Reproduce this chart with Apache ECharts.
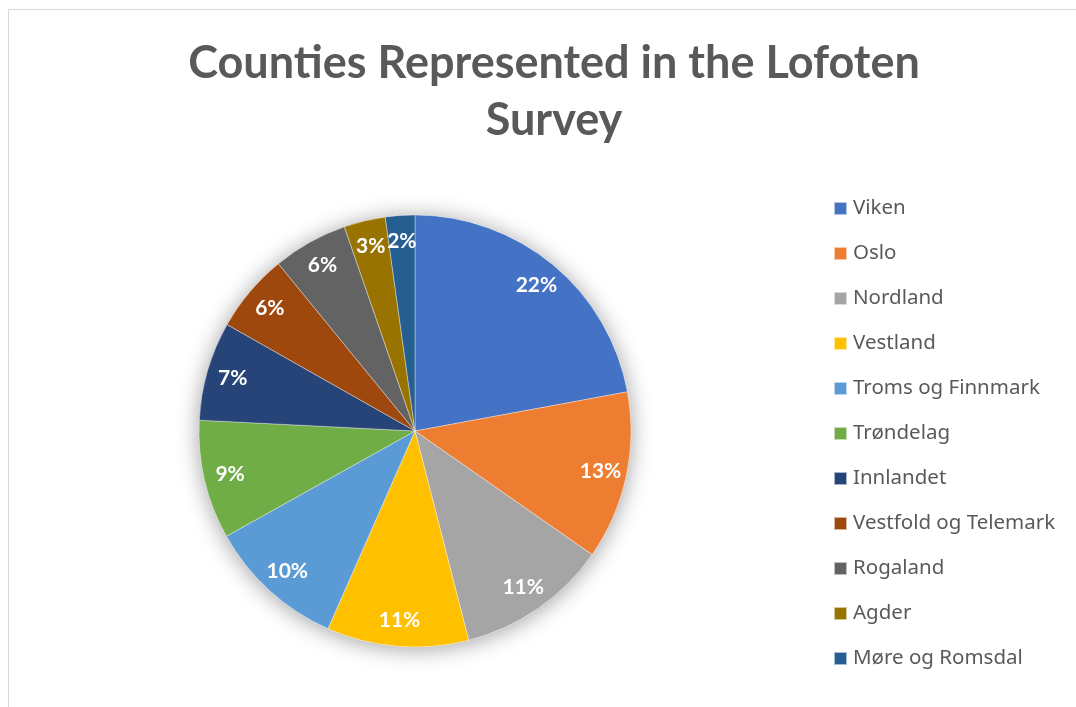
<!DOCTYPE html>
<html>
<head>
<meta charset="utf-8">
<script src="https://cdn.jsdelivr.net/npm/echarts@6/dist/echarts.min.js"></script>
<style>
html,body{margin:0;padding:0;background:#fff;}
#c{width:1076px;height:707px;}
</style>
</head>
<body>
<div id="c"></div>
<script>
const categories = ["Viken","Oslo","Nordland","Vestland","Troms og Finnmark","Trøndelag","Innlandet","Vestfold og Telemark","Rogaland","Agder","Møre og Romsdal"];
const shares = [22.1, 12.6, 11.3, 10.6, 10.3, 8.9, 7.4, 5.9, 5.6, 3.1, 2.2];
const colors = ["#4472C4","#ED7D31","#A5A5A5","#FFC000","#5B9BD5","#70AD47","#264478","#9E480E","#636363","#997300","#255E91"];

const chart = echarts.init(document.getElementById('c'));
const data = categories.map((n,i)=>({name:n, value:shares[i]}));
const center = [415, 431];
const R = 216;
chart.setOption({
  animation:false,
  color: colors,
  title: {
    text: "Counties Represented in the Lofoten\nSurvey",
    left: 549, top: 30, textAlign: 'center',
    textStyle: {fontFamily: 'Lato', fontWeight: 'bold', fontSize: 45, color: '#595959', lineHeight: 57}
  },
  graphic: [{type:'rect', silent:true, z:-10, shape:{x:8.5,y:9.5,width:1200,height:1200}, style:{fill:'none', stroke:'#d9d9d9', lineWidth:1}}],
  legend: {
    orient:'vertical', left: 828, top: 193,
    data: categories,
    icon: 'rect', itemWidth: 13, itemHeight: 13, itemGap: 24,
    textStyle: {fontFamily:'Noto Sans', fontSize: 20.5, color:'#595959', padding:[0,0,0,1]}
  },
  series: [
    {type:'pie', silent:true, z:1, center:center, radius:[0,R], label:{show:false}, labelLine:{show:false},
     data:[{name:'', value:1, itemStyle:{color:'#fff', shadowBlur:22, shadowColor:'rgba(0,0,0,0.38)', shadowOffsetX:0, shadowOffsetY:2}}]},
    {type:'pie', z:2, center:center, radius:[0,R], startAngle:90, clockwise:true,
     itemStyle:{borderColor:'rgba(255,255,255,0.6)', borderWidth:0.6},
     label:{show:false}, labelLine:{show:false}, data:data},
    {type:'pie', z:3, silent:true, center:center, radius:[R*0.74,R*0.99], startAngle:90, clockwise:true,
     itemStyle:{color:'rgba(0,0,0,0)'},
     label:{show:true, position:'inside', formatter:(p)=>Math.round(p.percent)+'%', color:'#fff', fontFamily:'Lato', fontWeight:'bold', fontSize:21},
     labelLine:{show:false}, data:data}
  ]
});
</script>
</body>
</html>
